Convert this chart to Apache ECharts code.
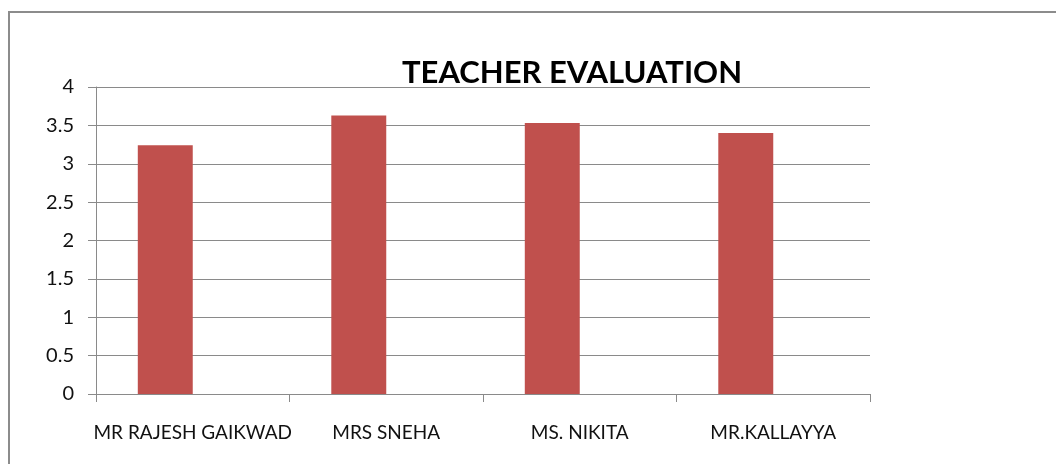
<!DOCTYPE html>
<html>
<head>
<meta charset="utf-8">
<script src="https://cdn.jsdelivr.net/npm/echarts@6/dist/echarts.min.js"></script>
<style>html,body{margin:0;padding:0;background:#fff}#c{width:1056px;height:464px}</style>
</head>
<body>
<div id="c"></div>
<script>
const chartTitle = 'TEACHER EVALUATION';
const categories = ['MR RAJESH GAIKWAD', 'MRS SNEHA', 'MS. NIKITA', 'MR.KALLAYYA'];
const scores = [3.24, 3.63, 3.53, 3.40];
const emptySeries = ['-', '-', '-', '-'];
const yTicks = { min: 0, max: 4, interval: 0.5 };

const chart = echarts.init(document.getElementById('c'), null, { renderer: 'canvas' });
const font = 'Lato, "Open Sans", sans-serif';
chart.setOption({
  animation: false,
  backgroundColor: '#fff',
  title: {
    text: chartTitle,
    left: 567, top: 52, textAlign: 'center',
    textStyle: { fontFamily: font, fontWeight: 'bold', fontSize: 31, color: '#000' }
  },
  graphic: [{
    type: 'rect', shape: { x: 9, y: 12, width: 1100, height: 500 },
    style: { fill: 'none', stroke: '#8c8c8c', lineWidth: 2 }, silent: true
  }],
  grid: { left: 96, right: 186, top: 87, bottom: 70, containLabel: false },
  xAxis: {
    type: 'category', data: categories,
    axisLine: { show: true, lineStyle: { color: '#8a8a8a', width: 1 } },
    axisTick: { show: true, length: 8, lineStyle: { color: '#8a8a8a' } },
    axisLabel: { color: '#111', fontFamily: font, fontSize: 19, margin: 29, interval: 0 },
    splitLine: { show: false }
  },
  yAxis: {
    type: 'value', min: yTicks.min, max: yTicks.max, interval: yTicks.interval,
    axisLine: { show: true, lineStyle: { color: '#8a8a8a', width: 1 } },
    axisTick: { show: true, length: 8, lineStyle: { color: '#8a8a8a' } },
    axisLabel: { color: '#111', fontFamily: font, fontSize: 20, margin: 22 },
    splitLine: { show: true, lineStyle: { color: '#8a8a8a', width: 1 } }
  },
  series: [
    { type: 'bar', data: scores, itemStyle: { color: '#C0504D' }, barGap: '0%', barCategoryGap: '43.2%' },
    { type: 'bar', data: emptySeries, itemStyle: { color: '#4F81BD' } }
  ]
});
</script>
</body>
</html>
